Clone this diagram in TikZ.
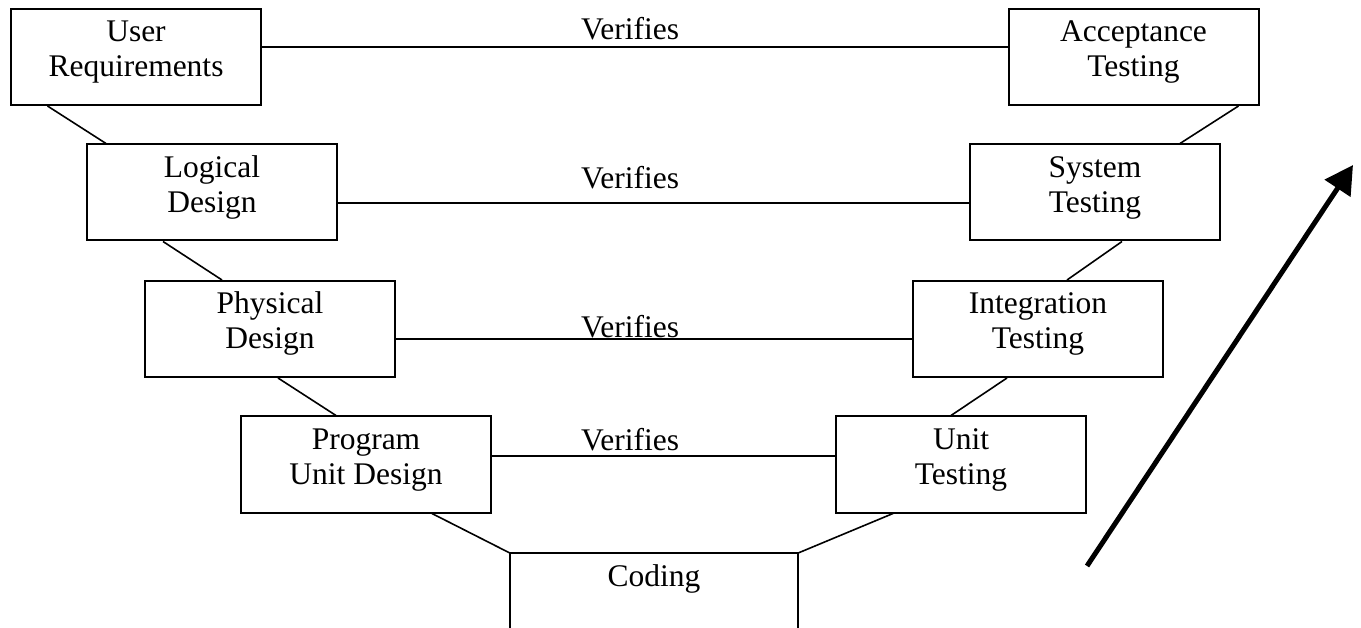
\documentclass[tikz,border=0pt]{standalone}
\usepackage{fontspec}
\setmainfont{Liberation Serif}
\usetikzlibrary{arrows.meta}
\tikzset{
  box/.style={draw, line width=2pt, minimum width=250pt, minimum height=96pt, inner sep=0pt},
  txt/.style={anchor=base, inner sep=0pt, font=\fontsize{31.5}{35}\selectfont},
  link/.style={line width=1.6pt},
  verline/.style={line width=2pt},
  boxline/.style={line width=2pt},
  bigarrow/.style={line width=5pt, -{Triangle[length=28pt,width=30pt]}}
}
\begin{document}
\begin{tikzpicture}[x=1pt,y=-1pt]
\useasboundingbox (0,0) rectangle (1361,628);
% boxes
\node[box] (ur) at (135.5,57) {};
\node[box] (ac) at (1133.5,57) {};
\node[box] (lg) at (212,192.5) {};
\node[box] (st) at (1095,192.5) {};
\node[box] (ph) at (270,329) {};
\node[box] (it) at (1038,329) {};
\node[box] (pu) at (366,464.5) {};
\node[box] (ut) at (961,464.5) {};
\node[minimum width=288pt, minimum height=75pt, inner sep=0pt, anchor=north] (cd) at (654,553) {};
\draw[boxline] (cd.south west) -- (cd.north west) -- (cd.north east) -- (cd.south east);
% texts
\node[txt] (ur1) at (136,42) {User};
\node[txt] (ur2) at (136,77) {Requirements};
\node[txt] (ac1) at (1133.5,42) {Acceptance};
\node[txt] (ac2) at (1133.5,77) {Testing};
\node[txt] (lg1) at (212,177.5) {Logical};
\node[txt] (lg2) at (212,213) {Design};
\node[txt] (st1) at (1095,177.5) {System};
\node[txt] (st2) at (1095,213) {Testing};
\node[txt] (ph1) at (270,314) {Physical};
\node[txt] (ph2) at (270,349) {Design};
\node[txt] (it1) at (1038,314) {Integration};
\node[txt] (it2) at (1038,349) {Testing};
\node[txt] (pu1) at (366,449.5) {Program};
\node[txt] (pu2) at (366,484.5) {Unit Design};
\node[txt] (ut1) at (961,449.5) {Unit};
\node[txt] (ut2) at (961,484.5) {Testing};
\node[txt] (cd1) at (654,586) {Coding};
% verifies
\draw[verline] ([yshift=10pt]ur.east) -- ([yshift=10pt]ac.west);
\draw[verline] ([yshift=-10.5pt]lg.east) -- ([yshift=-10.5pt]st.west);
\draw[verline] ([yshift=-10pt]ph.east) -- ([yshift=-10pt]it.west);
\draw[verline] ([yshift=8.5pt]pu.east) -- ([yshift=8.5pt]ut.west);
\node[txt] (v1) at (630,40) {Verifies};
\node[txt] (v2) at (630,189) {Verifies};
\node[txt] (v3) at (630,338) {Verifies};
\node[txt] (v4) at (630,450) {Verifies};
% V connectors
\draw[link] ([xshift=38pt]ur.south west) -- ([xshift=20pt]lg.north west);
\draw[link] ([xshift=77pt]lg.south west) -- ([xshift=78pt]ph.north west);
\draw[link] ([xshift=134pt]ph.south west) -- ([xshift=96pt]pu.north west);
\draw[link] ([xshift=192pt]pu.south west) -- (cd.north west);
\draw[link] ([xshift=231pt]ac.south west) -- ([xshift=211pt]st.north west);
\draw[link] ([xshift=153pt]st.south west) -- ([xshift=155pt]it.north west);
\draw[link] ([xshift=95pt]it.south west) -- ([xshift=116pt]ut.north west);
\draw[link] ([xshift=58pt]ut.south west) -- (cd.north east);
% arrow
\coordinate (a0) at (1087,566);
\coordinate (a1) at (1353,165);
\draw[bigarrow] (a0) -- (a1);
\end{tikzpicture}
\end{document}
